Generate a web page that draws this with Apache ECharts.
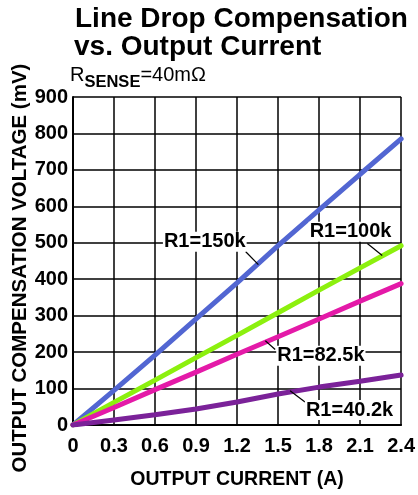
<!DOCTYPE html>
<html>
<head>
<meta charset="utf-8">
<script src="https://cdn.jsdelivr.net/npm/echarts@6/dist/echarts.min.js"></script>
<style>
  html, body { margin: 0; padding: 0; background: #fff; }
  #chart { width: 418px; height: 495px; }
</style>
</head>
<body>
<div id="chart"></div>
<script>
// output current (A)
const currents = [0, 0.3, 0.6, 0.9, 1.2, 1.5, 1.8, 2.1, 2.4];
// compensation voltage (mV) for each R1
const r150k = [0, 95, 192, 291, 390, 492, 590, 688, 785];
const r100k = [0, 62, 123, 185, 246, 308, 370, 431, 492];
const r82k5 = [0, 48, 97, 145, 194, 242, 291, 340, 388];
const r40k2 = [0, 14, 28, 44, 63, 85, 104, 120, 137];
const xTickLabels = ["0", "0.3", "0.6", "0.9", "1.2", "1.5", "1.8", "2.1", "2.4"];
const yTickLabels = ["0", "100", "200", "300", "400", "500", "600", "700", "800", "900"];

// label anchors and leader lines, in data units
const notes = [
  { text: "R1=150k", at: [0.964, 503], leader: [[1.262, 476], [1.356, 440]] },
  { text: "R1=100k", at: [2.03, 530], leader: [[2.153, 498], [2.262, 465]] },
  { text: "R1=82.5k", at: [1.813, 190], leader: [[1.407, 231], [1.479, 207]] },
  { text: "R1=40.2k", at: [2.023, 41], leader: [[1.588, 94], [1.697, 63]] }
];

const font = "Liberation Sans, Arial, sans-serif";
const chart = echarts.init(document.getElementById("chart"), null, { renderer: "canvas" });

function pairs(ys) {
  return currents.map((x, i) => [x, ys[i]]);
}

function lineSeries(name, ys, color, note) {
  return {
    name: name,
    type: "line",
    data: pairs(ys),
    showSymbol: false,
    symbol: "none",
    lineStyle: { color: color, width: 5, cap: "round" },
    z: 3,
    markPoint: {
      symbol: "circle",
      symbolSize: 1,
      itemStyle: { color: "rgba(0,0,0,0)" },
      silent: true,
      label: {
        show: true,
        position: "inside",
        formatter: note.text,
        color: "#000",
        fontFamily: font,
        fontWeight: "bold",
        fontSize: 20,
        backgroundColor: "#fff",
        padding: [0, 1]
      },
      data: [{ coord: note.at }]
    },
    markLine: {
      symbol: "none",
      silent: true,
      label: { show: false },
      lineStyle: { color: "#000", width: 1.2, type: "solid" },
      data: [[{ coord: note.leader[0] }, { coord: note.leader[1] }]]
    }
  };
}

const option = {
  animation: false,
  grid: { left: 73, right: 15, top: 97, bottom: 67 },
  graphic: [
    {
      type: "text", left: 75, top: 5,
      style: { text: "Line Drop Compensation", font: "bold 28px " + font, fill: "#000" }
    },
    {
      type: "text", left: 74, top: 33,
      style: { text: "vs. Output Current", font: "bold 28px " + font, fill: "#000" }
    },
    {
      type: "text", left: 70, top: 65,
      style: {
        text: "{r|R}{s|SENSE}{r|=40mΩ}",
        rich: {
          r: { fontFamily: font, fontSize: 20, fill: "#000", verticalAlign: "top", lineHeight: 20 },
          s: { fontFamily: font, fontSize: 16.5, fontWeight: "bold", fill: "#000", verticalAlign: "bottom", lineHeight: 26 }
        }
      }
    },
    {
      type: "text", x: 20, y: 268, rotation: Math.PI / 2,
      style: {
        text: "OUTPUT COMPENSATION VOLTAGE (mV)",
        font: "bold 20.5px " + font, fill: "#000",
        align: "center", verticalAlign: "middle"
      }
    }
  ],
  xAxis: {
    type: "value",
    min: 0,
    max: 2.4,
    interval: 0.3,
    name: "OUTPUT CURRENT (A)",
    nameLocation: "middle",
    nameGap: 45,
    nameTextStyle: { fontFamily: font, fontSize: 19.5, color: "#000", fontWeight: "bold" },
    axisLine: { show: true, lineStyle: { color: "#000", width: 2 } },
    axisTick: { show: false },
    axisLabel: {
      color: "#000", fontFamily: font, fontWeight: "bold", fontSize: 20, margin: 11,
      formatter: (v) => xTickLabels[Math.round(v / 0.3)]
    },
    splitLine: { show: true, lineStyle: { color: "#000", width: 1.5 } }
  },
  yAxis: {
    type: "value",
    min: 0,
    max: 900,
    interval: 100,
    axisLine: { show: true, lineStyle: { color: "#000", width: 2 } },
    axisTick: { show: false },
    axisLabel: {
      color: "#000", fontFamily: font, fontWeight: "bold", fontSize: 20, margin: 5,
      formatter: (v) => yTickLabels[Math.round(v / 100)]
    },
    splitLine: { show: true, lineStyle: { color: "#000", width: 1.5 } }
  },
  series: [
    lineSeries("R1=150k", r150k, "#5266d2", notes[0]),
    lineSeries("R1=100k", r100k, "#8cf00e", notes[1]),
    lineSeries("R1=82.5k", r82k5, "#e41aa8", notes[2]),
    lineSeries("R1=40.2k", r40k2, "#7b2299", notes[3])
  ]
};

chart.setOption(option);
</script>
</body>
</html>
